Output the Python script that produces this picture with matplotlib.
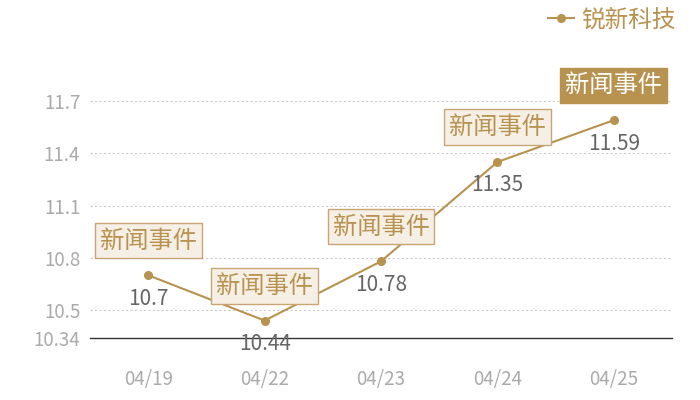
import matplotlib.pyplot as plt

plt.rcParams['font.family'] = ['Noto Sans CJK SC', 'DejaVu Sans']

# 数据
dates = ['04/19', '04/22', '04/23', '04/24', '04/25']
prices = [10.7, 10.44, 10.78, 11.35, 11.59]
events = ['新闻事件', '新闻事件', '新闻事件', '新闻事件', '新闻事件']
y_ticks = [10.34, 10.5, 10.8, 11.1, 11.4, 11.7]
series_name = '锐新科技'

gold = '#b8924f'

fig = plt.figure(figsize=(7, 4), dpi=100)
ax = fig.add_axes([0.1286, 0.155, 0.8314, 0.5925])

x = list(range(len(dates)))
ax.plot(x, prices, color=gold, lw=1.5, marker='o', ms=5.5, label=series_name, zorder=3)

ax.set_xlim(-0.5, len(dates) - 0.5)
ax.set_ylim(y_ticks[0], y_ticks[-1])
ax.set_yticks(y_ticks)
ax.set_yticklabels([f'{v:g}' for v in y_ticks])
ax.set_xticks(x)
ax.set_xticklabels(dates)
ax.tick_params(axis='both', length=0, labelsize=13.5, colors='#aaaaaa')
ax.tick_params(axis='x', pad=22)
ax.tick_params(axis='y', pad=7)

for v in y_ticks[1:]:
    ax.axhline(v, color='#cccccc', lw=0.8, ls=(0, (2, 2)), zorder=1, clip_on=False)
ax.axhline(y_ticks[0], color='#333333', lw=1, zorder=2, clip_on=False)

for s in ax.spines.values():
    s.set_visible(False)

# 数值标签
for i, v in enumerate(prices):
    ax.annotate(f'{v:g}', (i, v), xytext=(0, -9), textcoords='offset points',
                ha='center', va='top', fontsize=15, color='#666666', zorder=4)

# 事件标签
for i, (v, t) in enumerate(zip(prices, events)):
    last = i == len(prices) - 1
    ax.annotate(t, (i, v), xytext=(0, 25), textcoords='offset points',
                ha='center', va='center', fontsize=17.5,
                color='white' if last else gold,
                bbox=dict(boxstyle='square,pad=0.2',
                          fc=gold if last else '#f5efe6',
                          ec=gold if last else '#c9a574', lw=1),
                zorder=5, annotation_clip=False)

leg = fig.legend(loc='upper right', bbox_to_anchor=(0.985, 1.015), frameon=False,
                 fontsize=17, handlelength=1.1, handletextpad=0.3, borderaxespad=0.2)
for txt in leg.get_texts():
    txt.set_color(gold)

fig.savefig('out.png', dpi=100)
